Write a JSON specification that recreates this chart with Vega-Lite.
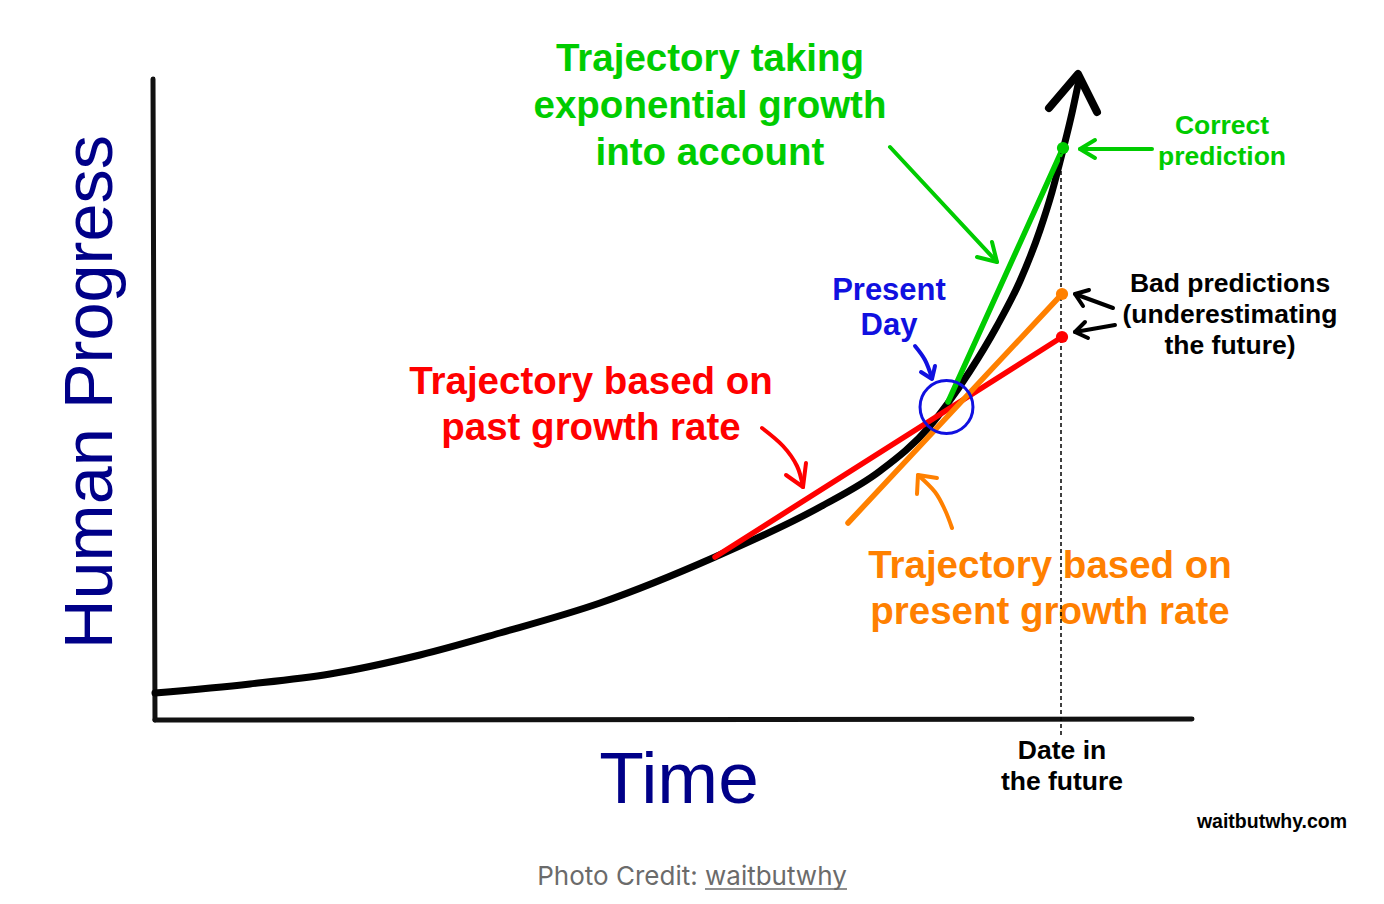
{
  "$schema": "https://vega.github.io/schema/vega-lite/v6.json",
  "width": 1384,
  "height": 904,
  "autosize": {"type": "fit", "contains": "padding"},
  "padding": 0,
  "background": "white",
  "config": {"view": {"stroke": null}},
  "datasets": {
    "frame": [
      {"part": "yaxis", "ord": 1, "t": 153, "p": 825},
      {"part": "yaxis", "ord": 2, "t": 154, "p": 500},
      {"part": "yaxis", "ord": 3, "t": 155, "p": 184},
      {"part": "xaxis", "ord": 1, "t": 155, "p": 184},
      {"part": "xaxis", "ord": 2, "t": 1192, "p": 185}
    ],
    "curve": [
      {"part": "path", "ord": 1, "t": 155, "p": 211},
      {"part": "path", "ord": 2, "t": 250, "p": 220},
      {"part": "path", "ord": 3, "t": 330, "p": 230},
      {"part": "path", "ord": 4, "t": 420, "p": 249},
      {"part": "path", "ord": 5, "t": 500, "p": 271},
      {"part": "path", "ord": 6, "t": 600, "p": 301},
      {"part": "path", "ord": 7, "t": 715, "p": 347},
      {"part": "path", "ord": 8, "t": 820, "p": 397},
      {"part": "path", "ord": 9, "t": 880, "p": 433},
      {"part": "path", "ord": 10, "t": 930, "p": 478},
      {"part": "path", "ord": 11, "t": 948, "p": 501},
      {"part": "path", "ord": 12, "t": 970, "p": 533},
      {"part": "path", "ord": 13, "t": 997, "p": 578},
      {"part": "path", "ord": 14, "t": 1020, "p": 623},
      {"part": "path", "ord": 15, "t": 1040, "p": 674},
      {"part": "path", "ord": 16, "t": 1052, "p": 712},
      {"part": "path", "ord": 17, "t": 1063, "p": 754},
      {"part": "path", "ord": 18, "t": 1072, "p": 791},
      {"part": "path", "ord": 19, "t": 1079, "p": 824},
      {"part": "tip", "ord": 1, "t": 1049, "p": 796},
      {"part": "tip", "ord": 2, "t": 1078, "p": 830},
      {"part": "tip", "ord": 3, "t": 1097, "p": 792}
    ],
    "projections": [
      {"series": "past", "t": 715, "p": 347},
      {"series": "past", "t": 1062, "p": 567},
      {"series": "present", "t": 848, "p": 381},
      {"series": "present", "t": 1062, "p": 610},
      {"series": "exponential", "t": 948, "p": 502},
      {"series": "exponential", "t": 1063, "p": 756}
    ],
    "predictions": [
      {"series": "past", "t": 1062, "p": 567},
      {"series": "present", "t": 1062, "p": 610},
      {"series": "exponential", "t": 1063, "p": 756}
    ],
    "today": [
      {"series": "today", "t": 946.5, "p": 497}
    ],
    "future": [
      {"t": 1061, "p": 754, "p2": 166}
    ],
    "underline": [
      {"series": "credit", "t": 705, "p": 15},
      {"series": "credit", "t": 847, "p": 15}
    ],
    "arrows": [
      {"id": "a1", "series": "exponential", "part": "shaft", "ord": 1, "t": 890, "p": 757},
      {"id": "a1", "series": "exponential", "part": "shaft", "ord": 2, "t": 997, "p": 642},
      {"id": "a1h", "series": "exponential", "part": "head", "ord": 1, "t": 992, "p": 662},
      {"id": "a1h", "series": "exponential", "part": "head", "ord": 2, "t": 997, "p": 642},
      {"id": "a1h", "series": "exponential", "part": "head", "ord": 3, "t": 977, "p": 647},
      {"id": "a2", "series": "exponential", "part": "shaft", "ord": 1, "t": 1152, "p": 755},
      {"id": "a2", "series": "exponential", "part": "shaft", "ord": 2, "t": 1080, "p": 755},
      {"id": "a2h", "series": "exponential", "part": "head", "ord": 1, "t": 1095, "p": 764},
      {"id": "a2h", "series": "exponential", "part": "head", "ord": 2, "t": 1080, "p": 755},
      {"id": "a2h", "series": "exponential", "part": "head", "ord": 3, "t": 1095, "p": 746},
      {"id": "a3", "series": "note", "part": "shaft", "ord": 1, "t": 1113, "p": 596},
      {"id": "a3", "series": "note", "part": "shaft", "ord": 2, "t": 1075, "p": 610},
      {"id": "a3h", "series": "note", "part": "head", "ord": 1, "t": 1089, "p": 614},
      {"id": "a3h", "series": "note", "part": "head", "ord": 2, "t": 1075, "p": 610},
      {"id": "a3h", "series": "note", "part": "head", "ord": 3, "t": 1083, "p": 598},
      {"id": "a4", "series": "note", "part": "shaft", "ord": 1, "t": 1115, "p": 579},
      {"id": "a4", "series": "note", "part": "shaft", "ord": 2, "t": 1075, "p": 572},
      {"id": "a4h", "series": "note", "part": "head", "ord": 1, "t": 1085, "p": 582},
      {"id": "a4h", "series": "note", "part": "head", "ord": 2, "t": 1075, "p": 572},
      {"id": "a4h", "series": "note", "part": "head", "ord": 3, "t": 1088, "p": 566},
      {"id": "a5", "series": "today", "part": "shaft", "ord": 1, "t": 915, "p": 558},
      {"id": "a5", "series": "today", "part": "shaft", "ord": 2, "t": 925, "p": 544},
      {"id": "a5", "series": "today", "part": "shaft", "ord": 3, "t": 932, "p": 526},
      {"id": "a5h", "series": "today", "part": "head", "ord": 1, "t": 921, "p": 532},
      {"id": "a5h", "series": "today", "part": "head", "ord": 2, "t": 932, "p": 525},
      {"id": "a5h", "series": "today", "part": "head", "ord": 3, "t": 935, "p": 538},
      {"id": "a6", "series": "past", "part": "shaft", "ord": 1, "t": 762, "p": 476},
      {"id": "a6", "series": "past", "part": "shaft", "ord": 2, "t": 783, "p": 458},
      {"id": "a6", "series": "past", "part": "shaft", "ord": 3, "t": 797, "p": 438},
      {"id": "a6", "series": "past", "part": "shaft", "ord": 4, "t": 803, "p": 417},
      {"id": "a6h", "series": "past", "part": "head", "ord": 1, "t": 786, "p": 429},
      {"id": "a6h", "series": "past", "part": "head", "ord": 2, "t": 803, "p": 417},
      {"id": "a6h", "series": "past", "part": "head", "ord": 3, "t": 806, "p": 441},
      {"id": "a7", "series": "present", "part": "shaft", "ord": 1, "t": 952, "p": 376},
      {"id": "a7", "series": "present", "part": "shaft", "ord": 2, "t": 945, "p": 394},
      {"id": "a7", "series": "present", "part": "shaft", "ord": 3, "t": 935, "p": 412},
      {"id": "a7", "series": "present", "part": "shaft", "ord": 4, "t": 918, "p": 429},
      {"id": "a7h", "series": "present", "part": "head", "ord": 1, "t": 917, "p": 410},
      {"id": "a7h", "series": "present", "part": "head", "ord": 2, "t": 918, "p": 429},
      {"id": "a7h", "series": "present", "part": "head", "ord": 3, "t": 937, "p": 426}
    ],
    "labels": [
      {"style": "big", "series": "exponential", "t": 710, "p": 833, "label": "Trajectory taking"},
      {"style": "big", "series": "exponential", "t": 710, "p": 786, "label": "exponential growth"},
      {"style": "big", "series": "exponential", "t": 710, "p": 739, "label": "into account"},
      {"style": "big", "series": "past", "t": 591, "p": 510, "label": "Trajectory based on"},
      {"style": "big", "series": "past", "t": 591, "p": 464, "label": "past growth rate"},
      {"style": "big", "series": "present", "t": 1050, "p": 326, "label": "Trajectory based on"},
      {"style": "big", "series": "present", "t": 1050, "p": 280, "label": "present growth rate"},
      {"style": "mid", "series": "today", "t": 889, "p": 604, "label": "Present"},
      {"style": "mid", "series": "today", "t": 889, "p": 569, "label": "Day"},
      {"style": "small", "series": "exponential", "t": 1222, "p": 770, "label": "Correct"},
      {"style": "small", "series": "exponential", "t": 1222, "p": 739, "label": "prediction"},
      {"style": "small", "series": "note", "t": 1230, "p": 612, "label": "Bad predictions"},
      {"style": "small", "series": "note", "t": 1230, "p": 581, "label": "(underestimating"},
      {"style": "small", "series": "note", "t": 1230, "p": 550, "label": "the future)"},
      {"style": "small", "series": "note", "t": 1062, "p": 145, "label": "Date in"},
      {"style": "small", "series": "note", "t": 1062, "p": 114, "label": "the future"},
      {"style": "site", "series": "note", "t": 1272, "p": 76, "label": "waitbutwhy.com"},
      {"style": "xtitle", "series": "axis", "t": 679, "p": 101, "label": "Time"},
      {"style": "ytitle", "series": "axis", "t": 112, "p": 512, "label": "Human Progress"},
      {"style": "credit", "series": "credit", "t": 692, "p": 19, "label": "Photo Credit: waitbutwhy"}
    ]
  },
  "encoding": {
    "x": {"field": "t", "type": "quantitative", "scale": {"domain": [0, 1384], "nice": false, "zero": false}, "axis": null},
    "y": {"field": "p", "type": "quantitative", "scale": {"domain": [0, 904], "nice": false, "zero": false}, "axis": null}
  },
  "layer": [
    {
      "data": {"name": "frame"},
      "mark": {"type": "line", "color": "#111111", "strokeWidth": 5, "strokeCap": "round", "strokeJoin": "round"},
      "encoding": {"detail": {"field": "part"}, "order": {"field": "ord", "type": "quantitative"}}
    },
    {
      "data": {"name": "curve"},
      "transform": [{"filter": "datum.part === 'path'"}],
      "mark": {"type": "line", "color": "#000000", "strokeWidth": 7, "strokeCap": "round", "interpolate": "monotone"},
      "encoding": {"order": {"field": "ord", "type": "quantitative"}}
    },
    {
      "data": {"name": "curve"},
      "transform": [{"filter": "datum.part === 'tip'"}],
      "mark": {"type": "line", "color": "#000000", "strokeWidth": 8, "strokeCap": "round", "strokeJoin": "round"},
      "encoding": {"order": {"field": "ord", "type": "quantitative"}}
    },
    {
      "data": {"name": "projections"},
      "mark": {"type": "line", "strokeWidth": 5.5, "strokeCap": "round"},
      "encoding": {
        "detail": {"field": "series"},
        "color": {"field": "series", "type": "nominal", "scale": {"domain": ["past", "present", "exponential", "today", "note", "axis", "credit"], "range": ["#ff0000", "#ff8000", "#00cc00", "#1010e0", "#000000", "#000088", "#6b6b6b"]}, "legend": null}
      }
    },
    {
      "data": {"name": "arrows"},
      "transform": [{"filter": "datum.part === 'shaft'"}],
      "mark": {"type": "line", "strokeWidth": 4, "strokeCap": "round", "interpolate": "cardinal"},
      "encoding": {
        "detail": {"field": "id"},
        "order": {"field": "ord", "type": "quantitative"},
        "color": {"field": "series", "type": "nominal", "legend": null}
      }
    },
    {
      "data": {"name": "arrows"},
      "transform": [{"filter": "datum.part === 'head'"}],
      "mark": {"type": "line", "strokeWidth": 4, "strokeCap": "round", "strokeJoin": "round"},
      "encoding": {
        "detail": {"field": "id"},
        "order": {"field": "ord", "type": "quantitative"},
        "color": {"field": "series", "type": "nominal", "legend": null}
      }
    },
    {
      "data": {"name": "labels"},
      "transform": [{"filter": "datum.style === 'big'"}],
      "mark": {"type": "text", "font": "Liberation Sans", "fontWeight": "bold", "fontSize": 38.5, "align": "center", "baseline": "alphabetic"},
      "encoding": {"text": {"field": "label"}, "color": {"field": "series", "type": "nominal", "legend": null}}
    },
    {
      "data": {"name": "labels"},
      "transform": [{"filter": "datum.style === 'mid'"}],
      "mark": {"type": "text", "font": "Liberation Sans", "fontWeight": "bold", "fontSize": 31, "align": "center", "baseline": "alphabetic"},
      "encoding": {"text": {"field": "label"}, "color": {"field": "series", "type": "nominal", "legend": null}}
    },
    {
      "data": {"name": "labels"},
      "transform": [{"filter": "datum.style === 'small'"}],
      "mark": {"type": "text", "font": "Liberation Sans", "fontWeight": "bold", "fontSize": 26.5, "align": "center", "baseline": "alphabetic"},
      "encoding": {"text": {"field": "label"}, "color": {"field": "series", "type": "nominal", "legend": null}}
    },
    {
      "data": {"name": "labels"},
      "transform": [{"filter": "datum.style === 'site'"}],
      "mark": {"type": "text", "font": "Liberation Sans", "fontWeight": "bold", "fontSize": 19.5, "align": "center", "baseline": "alphabetic"},
      "encoding": {"text": {"field": "label"}, "color": {"field": "series", "type": "nominal", "legend": null}}
    },
    {
      "data": {"name": "labels"},
      "transform": [{"filter": "datum.style === 'xtitle'"}],
      "mark": {"type": "text", "font": "Liberation Sans", "fontSize": 73, "align": "center", "baseline": "alphabetic"},
      "encoding": {"text": {"field": "label"}, "color": {"field": "series", "type": "nominal", "legend": null}}
    },
    {
      "data": {"name": "labels"},
      "transform": [{"filter": "datum.style === 'ytitle'"}],
      "mark": {"type": "text", "font": "Liberation Sans", "fontSize": 68.5, "align": "center", "baseline": "alphabetic", "angle": 270},
      "encoding": {"text": {"field": "label"}, "color": {"field": "series", "type": "nominal", "legend": null}}
    },
    {
      "data": {"name": "labels"},
      "transform": [{"filter": "datum.style === 'credit'"}],
      "mark": {"type": "text", "font": "Inter", "fontSize": 26, "align": "center", "baseline": "alphabetic"},
      "encoding": {"text": {"field": "label"}, "color": {"field": "series", "type": "nominal", "legend": null}}
    },
    {
      "data": {"name": "underline"},
      "mark": {"type": "line", "strokeWidth": 1.5},
      "encoding": {"color": {"field": "series", "type": "nominal", "legend": null}}
    },
    {
      "data": {"name": "future"},
      "mark": {"type": "rule", "color": "#000000", "strokeWidth": 1.5, "strokeDash": [4, 3]},
      "encoding": {"y2": {"field": "p2"}}
    },
    {
      "data": {"name": "predictions"},
      "mark": {"type": "point", "filled": true, "size": 150, "opacity": 1},
      "encoding": {"color": {"field": "series", "type": "nominal", "legend": null}}
    },
    {
      "data": {"name": "today"},
      "mark": {"type": "point", "filled": false, "size": 2800, "strokeWidth": 3, "opacity": 1},
      "encoding": {"color": {"field": "series", "type": "nominal", "legend": null}}
    }
  ]
}
